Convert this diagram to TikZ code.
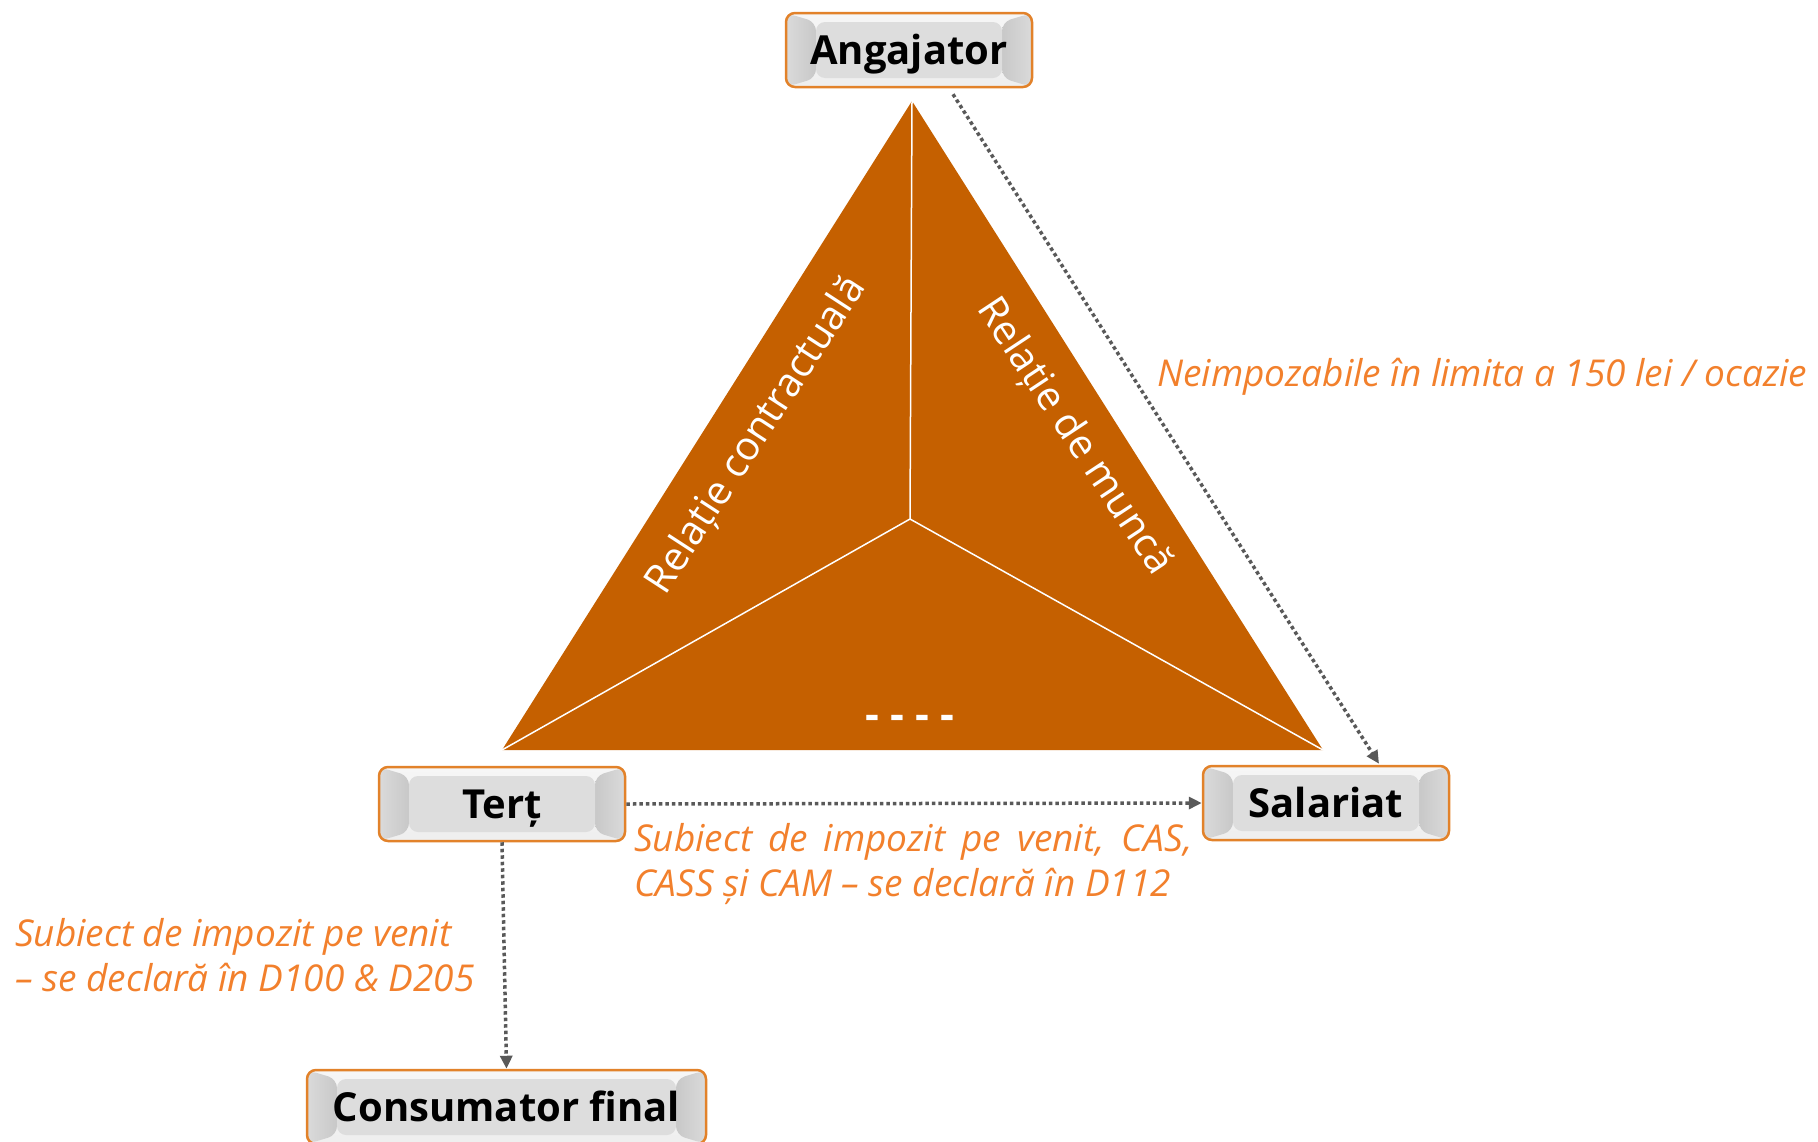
\documentclass[tikz,border=0pt]{standalone}
\usepackage{fontspec}
\setmainfont{Open Sans}
\usetikzlibrary{arrows.meta,calc}
\definecolor{tri}{RGB}{197,96,0}
\definecolor{txtor}{RGB}{242,128,44}
\definecolor{boxor}{RGB}{226,130,42}
\definecolor{arr}{RGB}{89,89,89}
\definecolor{bvlight}{RGB}{246,246,246}
\definecolor{bvside}{RGB}{200,200,200}
\definecolor{bvmid}{RGB}{221,221,221}
\begin{document}
\begin{tikzpicture}[x=1pt,y=-1pt,
  bevel/.style={rectangle, rounded corners=9pt, draw=boxor, line width=2.5pt,
    minimum height=74pt, inner sep=0pt, text=black,
    text height=28.6pt, text depth=0pt,
    font=\fontsize{40}{48}\selectfont\bfseries,
    path picture={
      \coordinate (pnw) at (path picture bounding box.north west);
      \coordinate (pne) at (path picture bounding box.north east);
      \coordinate (psw) at (path picture bounding box.south west);
      \coordinate (pse) at (path picture bounding box.south east);
      \shade[top color=bvlight, bottom color=bvlight!70!bvmid] (pnw) rectangle (pse);
      \shade[left color=bvside!60!bvlight, right color=bvside] (pnw) -- ($(pnw)+(30,9)$) -- ($(psw)+(30,-9)$) -- (psw) -- cycle;
      \shade[right color=bvside!60!bvlight, left color=bvside] (pne) -- ($(pne)+(-30,9)$) -- ($(pse)+(-30,-9)$) -- (pse) -- cycle;
      \fill[bvmid] ($(pnw)+(30,9)$) rectangle ($(pse)+(-30,-9)$);
    }},
  conn/.style={draw=arr, line width=3.5pt, dash pattern=on 3.5pt off 3pt,
    -{Triangle[length=13pt,width=12pt,fill=arr]}},
  note/.style={text=txtor, font=\fontsize{37}{45}\selectfont\itshape, inner sep=0pt, align=left},
  trilabel/.style={text=white, font=\fontsize{40}{48}\selectfont, inner sep=0pt}
]
\useasboundingbox (0,0) rectangle (1818,1141);

% triangle
\coordinate (apex) at (912,101);
\coordinate (bl) at (502,750);
\coordinate (br) at (1323,750);
\coordinate (mid) at (910,519);
\fill[tri] (apex) -- (br) -- (bl) -- cycle;
\draw[white, line width=1.5pt] (apex) -- (mid) -- (bl);
\draw[white, line width=1.5pt] (mid) -- (br);

\node[trilabel, rotate=57] (rc) at (757,436) {Relație contractuală};
\node[trilabel, rotate=-56.5] (rm) at (1074,437) {Relație de muncă};
\node[text=white, font=\fontsize{43}{50}\selectfont\bfseries, inner sep=0pt] (dots) at (910,722) {- - - -};

% boxes
\node[bevel, minimum width=246pt] (ang) at (909,50) {Angajator};
\node[bevel, minimum width=246pt] (ter) at (502,804) {Terț};
\node[bevel, minimum width=246pt] (sal) at (1326,803) {Salariat};
\node[bevel, minimum width=399pt] (cons) at (506.5,1107) {Consumator final};

% connectors
\draw[conn] ($(ang.south)+(44,6)$) -- ($(sal.north)+(53,-1)$);
\draw[conn] (ter.east) -- (sal.west);
\draw[conn] (ter.south) -- (cons.north);

% notes
\node[note, anchor=base west] (n1) at (1157,386) {Neimpozabile în limita a 150 lei / ocazie};
\node[note, anchor=base west] (n2) at (634,851) {\makebox[558pt][s]{Subiect de impozit pe venit, CAS,}};
\node[note, anchor=base west] (n3) at (634,896) {CASS și CAM – se declară în D112};
\node[note, anchor=base west] (n4) at (15,946) {Subiect de impozit pe venit};
\node[note, anchor=base west] (n5) at (15,991) {– se declară în D100 \& D205};
\end{tikzpicture}
\end{document}
